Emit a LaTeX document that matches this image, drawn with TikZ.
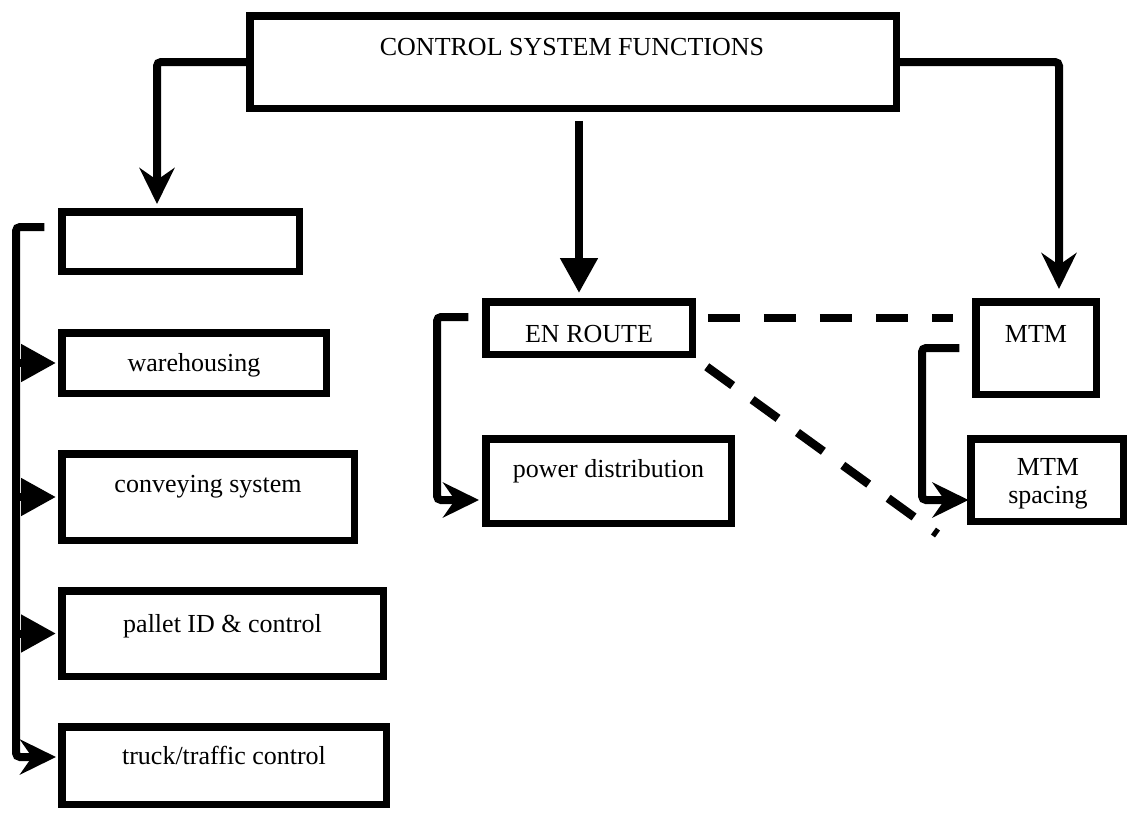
\documentclass[tikz,border=0pt]{standalone}
\usepackage{fontspec}
\setmainfont{Liberation Serif}
\usetikzlibrary{arrows.meta}
\begin{document}
\begin{tikzpicture}[x=1pt,y=-1pt,
  box/.style={draw, line width=7.5pt, inner sep=0pt},
  lbl/.style={anchor=base, inner sep=0pt, font=\fontsize{26}{28}\selectfont},
  wire/.style={line width=8pt, rounded corners=4pt},
  stealthtip/.style={-{Stealth[length=36pt,width=35pt,inset=12pt]}},
  tritip/.style={-{Triangle[length=35pt,width=36pt]}},
  dashlink/.style={line width=8.5pt, dash pattern=on 32pt off 24pt}]
\useasboundingbox (0,0) rectangle (1129,812);

% boxes
\node[box, minimum width=646.5pt, minimum height=92.5pt] (csf)    at (573,62)    {};
\node[box, minimum width=237.5pt, minimum height=59.5pt] (blank)  at (180.5,241.5) {};
\node[box, minimum width=264.5pt, minimum height=60.5pt] (ware)   at (194,363)   {};
\node[box, minimum width=292.5pt, minimum height=86.5pt] (conv)   at (208,497)   {};
\node[box, minimum width=321.5pt, minimum height=85.5pt] (pallet) at (222.5,633.5) {};
\node[box, minimum width=324.5pt, minimum height=77.5pt] (truck)  at (224,765.5) {};
\node[box, minimum width=206.5pt, minimum height=52.5pt] (enroute) at (589,328)  {};
\node[box, minimum width=245.5pt, minimum height=84.5pt] (power)  at (608.5,481) {};
\node[box, minimum width=120.5pt, minimum height=92.5pt] (mtm)    at (1036,348)  {};
\node[box, minimum width=152.5pt, minimum height=82.5pt] (mtmsp)  at (1047,480)  {};

% labels
\node[lbl] (tcsf)    at (572,55)  {CONTROL SYSTEM FUNCTIONS};
\node[lbl] (tware)   at (194,371) {warehousing};
\node[lbl] (tconv)   at (208,492) {conveying system};
\node[lbl] (tpallet) at (222.5,632) {pallet ID \& control};
\node[lbl] (ttruck)  at (224,764) {truck/traffic control};
\node[lbl] (tenr)    at (589,342) {EN ROUTE};
\node[lbl] (tpower)  at (608.5,477) {power distribution};
\node[lbl] (tmtm)    at (1036,342) {MTM};
\node[lbl] (tmtmsp)  at (1048,475)
  {\vtop{\baselineskip=28pt\halign{\hfil#\hfil\cr MTM\cr spacing\cr}}};

% vertical bus lines
\coordinate (lbus) at (16,227);
\coordinate (ebus) at (437,317);
\coordinate (mbus) at (922,348);

% top-level branches
\draw[wire, stealthtip] (csf.west) -| ([shift={(-23.5,-4)}]blank.north);
\draw[wire, tritip]
  ([shift={(6,8.75)}]csf.south) -- ([shift={(-10,-5)}]enroute.north);
\draw[wire, stealthtip] (csf.east) -| ([shift={(23,-9)}]mtm.north);

% left column bus
\draw[wire, stealthtip] ([shift={(-13.75,-14.5)}]blank.west) -- (lbus)
  |- ([shift={(-2,-8.5)}]truck.west);
\draw[line width=8pt, tritip] (lbus |- ware.west)   -- ([xshift=-2]ware.west);
\draw[line width=8pt, tritip] (lbus |- conv.west)   -- ([xshift=-2]conv.west);
\draw[line width=8pt, tritip] (lbus |- pallet.west) -- ([xshift=-2]pallet.west);

% EN ROUTE to power distribution
\draw[wire, stealthtip] ([shift={(-13.75,-11)}]enroute.west) -- (ebus)
  |- ([shift={(-3,19)}]power.west);

% MTM to MTM spacing
\draw[wire, stealthtip] ([xshift=-12.75]mtm.west) -- (mbus)
  |- ([shift={(1.5,20)}]mtmsp.west);

% dashed links
\draw[dashlink] ([shift={(11.75,-10)}]enroute.east) -- ([shift={(-18.75,-30)}]mtm.west);
\draw[dashlink] ([shift={(10.75,8.75)}]enroute.south east) -- ([shift={(-29.5,9)}]mtmsp.south west);
\end{tikzpicture}
\end{document}
